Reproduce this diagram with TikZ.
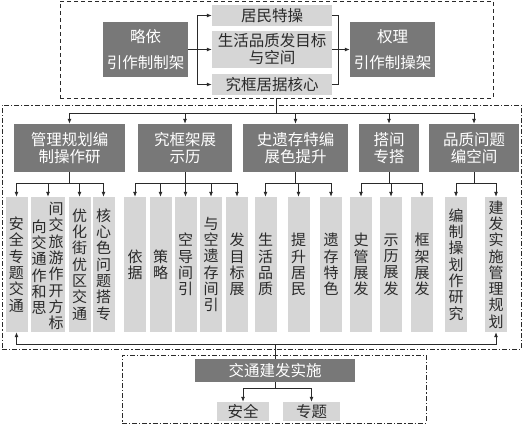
\documentclass[tikz,border=0pt]{standalone}
\usepackage{fontspec}
\setmainfont{Noto Sans CJK SC}
\usetikzlibrary{arrows.meta}
\definecolor{dk}{HTML}{787878}
\definecolor{lt}{HTML}{D6D6D6}
\definecolor{ln}{HTML}{2A2A2A}
\begin{document}
\begin{tikzpicture}[x=1pt,y=-1pt,
  dbox/.style={fill=dk, draw=none, text=white, inner sep=0pt, align=center, font=\fontsize{15.5}{17}\selectfont},
  tbox/.style={fill=lt, draw=none, text=ln, inner sep=0pt, align=center, font=\fontsize{15.5}{17}\selectfont},
  vbox/.style={fill=lt, draw=none, text=ln, inner sep=0pt, align=center, minimum width=22, minimum height=135, font=\fontsize{15}{16.3}\selectfont},
  vtext/.style={text=ln, inner sep=0pt, align=center, font=\fontsize{15}{16.3}\selectfont},
  con/.style={draw=ln, line width=0.8pt},
  arr/.style={draw=ln, line width=0.8pt, -{Latex[length=5pt,width=4pt]}},
  dashfr/.style={draw=ln, line width=0.8pt, dash pattern=on 4pt off 3pt, inner sep=0pt},
  dotfr/.style={draw=ln, line width=0.8pt, dash pattern=on 5pt off 2pt on 1.2pt off 2pt, inner sep=0pt}]
\useasboundingbox (0,0) rectangle (524,425);

% frames
\node[dashfr, minimum width=433, minimum height=97] (topframe) at (276.5,49.5) {};
\node[dotfr, minimum width=519, minimum height=244] (midframe) at (261.5,227) {};
\node[dotfr, minimum width=304, minimum height=68] (botframe) at (274,389) {};

% top section
\node[dbox, minimum width=85, minimum height=55, font=\fontsize{15.5}{26}\selectfont] (L) at (145.5,49.5) {略依\\引作制制架};
\node[tbox, minimum width=120, minimum height=21] (T1) at (272,15.5) {居民特操};
\node[tbox, minimum width=120, minimum height=37] (T2) at (272,49.5) {生活品质发目标\\与空间};
\node[tbox, minimum width=120, minimum height=21] (T3) at (272,84.5) {究框居据核心};
\node[dbox, minimum width=85, minimum height=55, font=\fontsize{15.5}{26}\selectfont] (R) at (392.5,49.5) {权理\\引作制操架};

\coordinate (lj) at (197,49.5);
\coordinate (rj) at (338,49.5);
\draw[con] (L.east) -- (lj);
\draw[arr] (lj) |- (T1.west);
\draw[arr] (lj) -- (T2.west);
\draw[arr] (lj) |- (T3.west);
\draw[con] (T1.east) -| (rj);
\draw[con] (T3.east) -| (rj);
\draw[arr] (T2.east) -- (R.west);

% middle dark boxes
\node[dbox, minimum width=111, minimum height=48] (D1) at (69.5,148) {管理规划编\\制操作研};
\node[dbox, minimum width=94, minimum height=48] (D2) at (185,148) {究框架展\\示历};
\node[dbox, minimum width=105, minimum height=48] (D3) at (295.5,148) {史遗存特编\\展色提升};
\node[dbox, minimum width=60, minimum height=48] (D4) at (389,148) {搭间\\专搭};
\node[dbox, minimum width=90, minimum height=48] (D5) at (474,148) {品质问题\\编空间};

\coordinate (hub1) at (276.5,113);
\draw[con] (topframe.south) -- (hub1);
\foreach \n in {D1,D2,D3,D4,D5} \draw[arr] (hub1) -| (\n.north);

% light vertical boxes
\node[vbox] (a1) at (16.5,264.5) {安\\全\\专\\题\\交\\通};
\node[vbox, minimum width=34] (a2) at (48,264.5) {};
\node[vtext] (a2r) at (56,266) {间\\交\\旅\\游\\作\\开\\方\\标};
\node[vtext] (a2l) at (39,267) {向\\交\\通\\作\\和\\思};
\node[vbox] (a3) at (79.5,264.5) {优\\化\\街\\优\\区\\交\\通};
\node[vbox] (a4) at (103.5,264.5) {核\\心\\色\\问\\题\\搭\\专};

\node[vbox] (b1) at (135,264.5) {依\\据};
\node[vbox] (b2) at (160.5,264.5) {策\\略};
\node[vbox] (b3) at (185.5,264.5) {空\\导\\间\\引};
\node[vbox] (b4) at (211,264.5) {与\\空\\遗\\存\\间\\引};
\node[vbox] (b5) at (237,264.5) {发\\目\\标\\展};

\node[vbox] (c1) at (265.5,264.5) {生\\活\\品\\质};
\node[vbox] (c2) at (298.5,264.5) {提\\升\\居\\民};
\node[vbox] (c3) at (331,264.5) {遗\\存\\特\\色};

\node[vbox] (d1) at (361,264.5) {史\\管\\展\\发};
\node[vbox] (d2) at (391,264.5) {示\\历\\展\\发};
\node[vbox] (d3) at (422,264.5) {框\\架\\展\\发};

\node[vbox] (e1) at (456,264.5) {编\\制\\操\\划\\作\\研\\究};
\node[vbox] (e2) at (496,264.5) {建\\发\\实\\施\\管\\理\\规\\划};

% branch connectors
\draw[con] (D1.south) -- ++(0,11) coordinate (h1);
\foreach \n in {a1,a2,a3,a4} \draw[arr] (h1) -| (\n.north);
\draw[con] (D2.south) -- ++(0,11) coordinate (h2);
\foreach \n in {b1,b2,b3,b4,b5} \draw[arr] (h2) -| (\n.north);
\draw[con] (D3.south) -- ++(0,11) coordinate (h3);
\foreach \n in {c1,c2,c3} \draw[arr] (h3) -| (\n.north);
\draw[con] (D4.south) -- ++(0,11) coordinate (h4);
\foreach \n in {d1,d2,d3} \draw[arr] (h4) -| (\n.north);
\draw[con] (D5.south) -- ++(0,11) coordinate (h5);
\foreach \n in {e1,e2} \draw[arr] (h5) -| (\n.north);

% bottom section
\node[dbox, minimum width=160, minimum height=23] (B) at (275,370.5) {交通建发实施};
\node[tbox, minimum width=52, minimum height=19] (S1) at (243,411.5) {安全};
\node[tbox, minimum width=57, minimum height=19] (S2) at (311.5,411.5) {专题};

\coordinate (hub3) at (275,344);
\draw[arr] (hub3) -| (a1.south);
\draw[arr] (hub3) -| (e2.south);
\draw[con] (hub3) -- (B.north);

\draw[con] (B.south) -- ++(0,6) coordinate (hub4);
\draw[arr] (hub4) -| (S1.north);
\draw[arr] (hub4) -| (S2.north);
\end{tikzpicture}
\end{document}
